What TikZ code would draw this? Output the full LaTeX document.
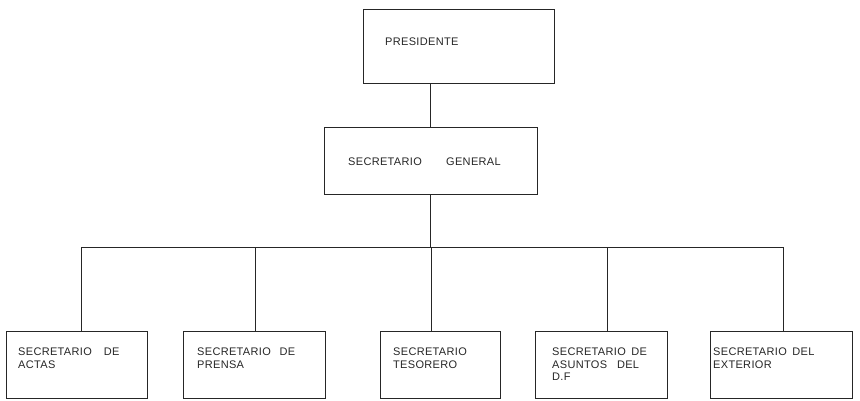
\documentclass[tikz,border=0pt]{standalone}
\usepackage{fontspec}
\setmainfont{Liberation Sans}[LetterSpace=3]
\begin{document}
\begin{tikzpicture}[x=1pt,y=-1pt,
  box/.style={draw=black!85,line width=0.8pt,rectangle,inner sep=0pt},
  lbl/.style={anchor=north west,inner sep=0pt,align=left,font=\fontsize{11}{12.5}\selectfont,text=black!85},
  conn/.style={draw=black!85,line width=0.8pt}]
\useasboundingbox (0,0) rectangle (860,401);
% boxes
\node[box,minimum width=191pt,minimum height=74pt] (pres) at (458.5,46) {};
\node[box,minimum width=213pt,minimum height=67pt] (sg) at (430.5,160.5) {};
\node[box,minimum width=141pt,minimum height=67pt] (b1) at (76.5,364.5) {};
\node[box,minimum width=142pt,minimum height=67pt] (b2) at (254,364.5) {};
\node[box,minimum width=120pt,minimum height=67pt] (b3) at (440,364.5) {};
\node[box,minimum width=132pt,minimum height=67pt] (b4) at (601,364.5) {};
\node[box,minimum width=142pt,minimum height=67pt] (b5) at (781,364.5) {};
% texts
\node[lbl] (tpres) at (385,38) {PRESIDENTE};
\node[lbl] (tsg1) at (348,158) {SECRETARIO};
\node[lbl] (tsg2) at (446,158) {GENERAL};
\node[lbl] (t1) at (18,348) {SECRETARIO\hspace{1.1em}DE\\ACTAS};
\node[lbl] (t2) at (197,348) {SECRETARIO\hspace{0.8em}DE\\PRENSA};
\node[lbl] (t3) at (393,348) {SECRETARIO\\TESORERO};
\node[lbl] (t4) at (552,348) {SECRETARIO\hspace{0.5em}DE\\ASUNTOS\hspace{0.9em}DEL\\D.F};
\node[lbl] (t5) at (713,348) {SECRETARIO\hspace{0.5em}DEL\\EXTERIOR};
% connectors
\coordinate (bus) at (430,247);
\coordinate (d1) at (81,247);
\coordinate (d2) at (255,247);
\coordinate (d3) at (431,247);
\coordinate (d4) at (607,247);
\coordinate (d5) at (783,247);
\draw[conn] (pres.south -| bus) -- (sg.north -| bus);
\draw[conn] (sg.south -| bus) -- (bus);
\draw[conn] (d1) -- (d5);
\draw[conn] (d1) -- (d1 |- b1.north);
\draw[conn] (d2) -- (d2 |- b2.north);
\draw[conn] (d3) -- (d3 |- b3.north);
\draw[conn] (d4) -- (d4 |- b4.north);
\draw[conn] (d5) -- (d5 |- b5.north);
\end{tikzpicture}
\end{document}
